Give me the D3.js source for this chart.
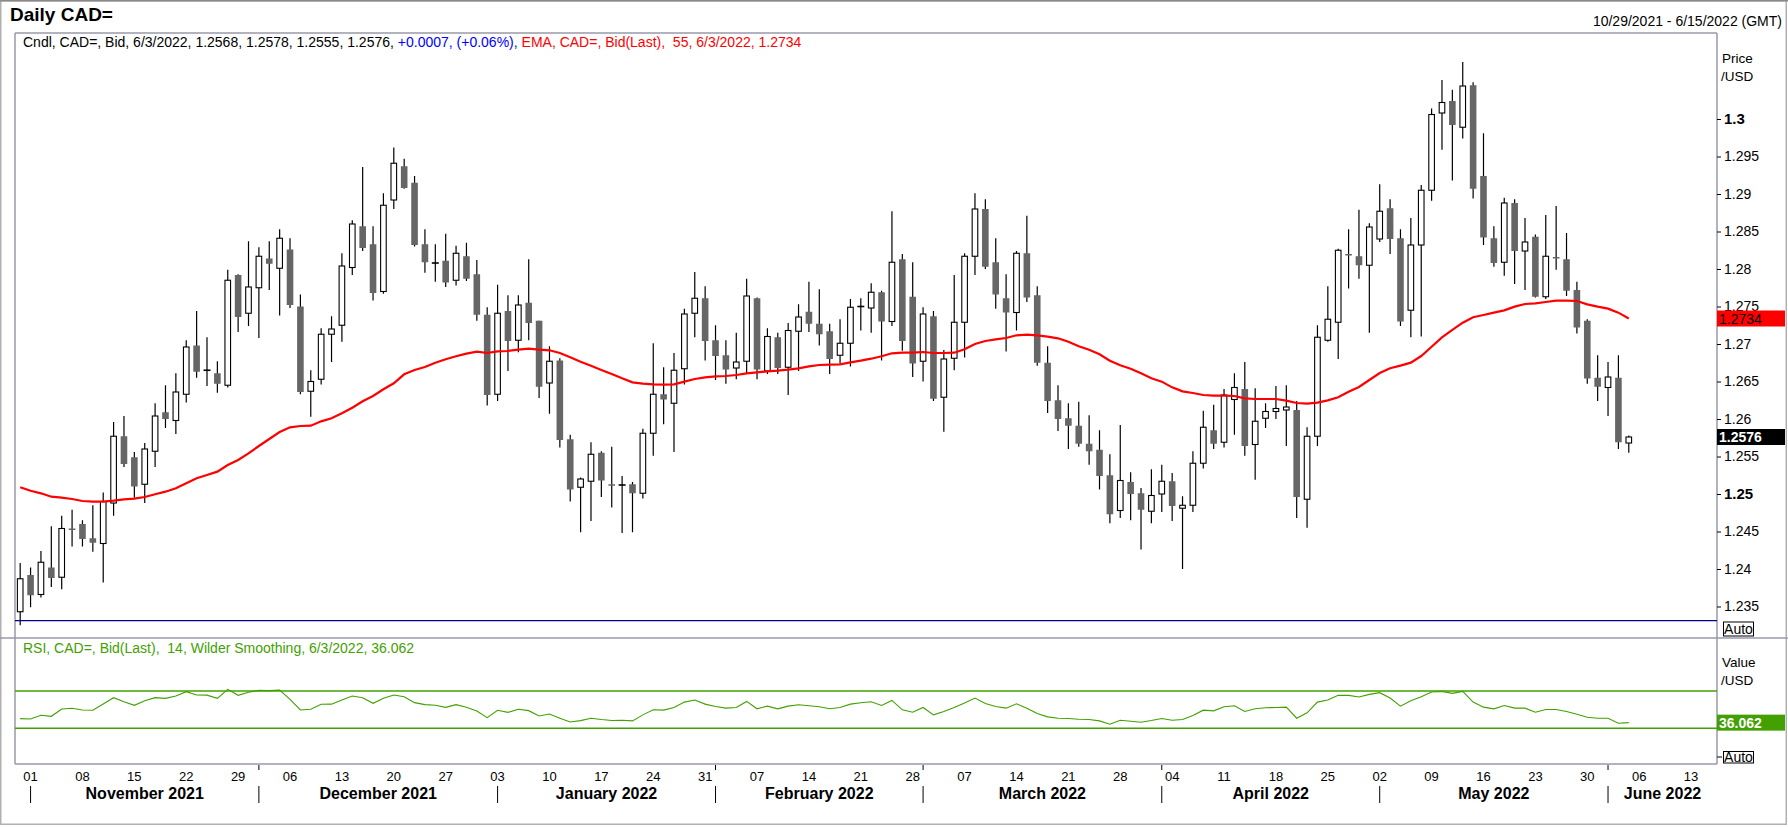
<!DOCTYPE html>
<html>
<head>
<meta charset="utf-8">
<script src="https://cdn.jsdelivr.net/npm/d3@7"></script>
<style>
body { margin: 0; background: #fff; }
svg { display: block; font-family: "Liberation Sans", Arial, sans-serif; }
text { white-space: pre; }
</style>
</head>
<body>
<div id="app"></div>
<script>
const width = 1788,
    height = 827;

// trading days (weekdays) from 10/29/2021 to 6/15/2022
const days = d3.utcDays(new Date(Date.UTC(2021, 9, 29)), new Date(Date.UTC(2022, 5, 16)))
    .filter(d => d.getUTCDay() !== 0 && d.getUTCDay() !== 6);

const open = [
    1.2343,1.2392,1.2366,1.2402,1.2389,1.2454,1.2460,1.2441,1.2434,1.2488,
    1.2577,1.2549,1.2513,1.2557,1.2609,1.2598,1.2633,1.2698,1.2665,1.2661,
    1.2645,1.2792,1.2741,1.2775,1.2814,1.2801,1.2826,1.2750,1.2637,1.2653,
    1.2713,1.2725,1.2802,1.2857,1.2833,1.2770,1.2892,1.2937,1.2915,1.2833,
    1.2808,1.2811,1.2785,1.2817,1.2793,1.2739,1.2633,1.2744,1.2705,1.2755,
    1.2731,1.2648,1.2678,1.2573,1.2509,1.2517,1.2555,1.2513,1.2512,1.2513,
    1.2501,1.2581,1.2633,1.2621,1.2667,1.2741,1.2761,1.2705,1.2685,1.2668,
    1.2677,1.2761,1.2664,1.2709,1.2669,1.2717,1.2743,1.2727,1.2717,1.2685,
    1.2701,1.2750,1.2748,1.2769,1.2730,1.2813,1.2763,1.2677,1.2737,1.2629,
    1.2681,1.2729,1.2817,1.2880,1.2809,1.2761,1.2742,1.2821,1.2765,1.2675,
    1.2625,1.2601,1.2591,1.2567,1.2559,1.2525,1.2478,1.2516,1.2501,1.2477,
    1.2500,1.2517,1.2481,1.2485,1.2541,1.2585,1.2569,1.2626,1.2640,1.2566,
    1.2601,1.2610,1.2612,1.2612,1.2493,1.2577,1.2705,1.2729,1.2820,1.2817,
    1.2805,1.2840,1.2881,1.2841,1.2745,1.2832,1.2905,1.3008,1.3024,1.2989,
    1.3045,1.2924,1.2841,1.2809,1.2888,1.2824,1.2843,1.2763,1.2816,1.2813,
    1.2772,1.2731,1.2655,1.2642,1.2655,1.2568
];
const high = [
    1.2408,1.2402,1.2424,1.2457,1.2471,1.2479,1.2465,1.2485,1.2502,1.2596,
    1.2604,1.2556,1.2568,1.2621,1.2645,1.2661,1.2705,1.2744,1.2709,1.2677,
    1.2799,1.2793,1.2837,1.2829,1.2837,1.2853,1.2841,1.2766,1.2665,1.2721,
    1.2737,1.2821,1.2865,1.2936,1.2857,1.2901,1.2962,1.2947,1.2924,1.2853,
    1.2833,1.2847,1.2831,1.2835,1.2812,1.2749,1.2779,1.2765,1.2765,1.2813,
    1.2731,1.2697,1.2681,1.2579,1.2522,1.2569,1.2557,1.2563,1.2524,1.2516,
    1.2587,1.2701,1.2669,1.2688,1.2747,1.2796,1.2777,1.2725,1.2705,1.2715,
    1.2787,1.2762,1.2721,1.2715,1.2728,1.2753,1.2783,1.2773,1.2727,1.2733,
    1.2760,1.2761,1.2781,1.2771,1.2877,1.2820,1.2809,1.2749,1.2744,1.2692,
    1.2792,1.2821,1.2901,1.2893,1.2841,1.2793,1.2824,1.2871,1.2777,1.2697,
    1.2645,1.2621,1.2623,1.2605,1.2585,1.2553,1.2592,1.2529,1.2508,1.2533,
    1.2539,1.2528,1.2497,1.2557,1.2611,1.2619,1.2640,1.2661,1.2676,1.2641,
    1.2621,1.2644,1.2645,1.2624,1.2589,1.2725,1.2777,1.2827,1.2853,1.2879,
    1.2861,1.2913,1.2893,1.2853,1.2868,1.2912,1.3014,1.3052,1.3039,1.3076,
    1.3049,1.2981,1.2857,1.2895,1.2893,1.2868,1.2846,1.2872,1.2884,1.2848,
    1.2783,1.2733,1.2685,1.2676,1.2685,1.2578
];
const low = [
    1.2325,1.2349,1.2362,1.2376,1.2373,1.2430,1.2430,1.2423,1.2382,1.2471,
    1.2536,1.2495,1.2488,1.2536,1.2588,1.2580,1.2622,1.2655,1.2644,1.2635,
    1.2642,1.2716,1.2724,1.2708,1.2772,1.2738,1.2748,1.2633,1.2603,1.2646,
    1.2676,1.2703,1.2792,1.2824,1.2758,1.2767,1.2880,1.2907,1.2830,1.2795,
    1.2783,1.2776,1.2778,1.2784,1.2731,1.2618,1.2624,1.2664,1.2689,1.2705,
    1.2628,1.2607,1.2562,1.2490,1.2449,1.2464,1.2496,1.2482,1.2448,1.2449,
    1.2494,1.2551,1.2593,1.2556,1.2646,1.2709,1.2678,1.2652,1.2647,1.2653,
    1.2661,1.2653,1.2660,1.2660,1.2632,1.2664,1.2716,1.2698,1.2660,1.2674,
    1.2670,1.2718,1.2715,1.2678,1.2724,1.2691,1.2656,1.2650,1.2624,1.2583,
    1.2665,1.2682,1.2792,1.2800,1.2747,1.2690,1.2718,1.2756,1.2671,1.2608,
    1.2584,1.2560,1.2563,1.2539,1.2506,1.2461,1.2468,1.2465,1.2426,1.2461,
    1.2476,1.2464,1.2400,1.2476,1.2534,1.2560,1.2562,1.2579,1.2551,1.2519,
    1.2588,1.2600,1.2564,1.2468,1.2455,1.2564,1.2703,1.2680,1.2774,1.2787,
    1.2715,1.2836,1.2820,1.2724,1.2709,1.2710,1.2891,1.2959,1.2918,1.2974,
    1.2894,1.2832,1.2803,1.2791,1.2780,1.2772,1.2762,1.2760,1.2799,1.2764,
    1.2714,1.2647,1.2624,1.2604,1.2560,1.2555
];
const close = [
    1.2387,1.2365,1.2409,1.2388,1.2454,1.2452,1.2440,1.2435,1.2490,1.2577,
    1.2540,1.2510,1.2560,1.2604,1.2600,1.2636,1.2696,1.2663,1.2665,1.2647,
    1.2785,1.2736,1.2776,1.2817,1.2807,1.2841,1.2752,1.2636,1.2650,1.2713,
    1.2720,1.2804,1.2860,1.2828,1.2768,1.2885,1.2941,1.2908,1.2832,1.2809,
    1.2808,1.2782,1.2821,1.2787,1.2739,1.2632,1.2741,1.2704,1.2752,1.2728,
    1.2643,1.2677,1.2572,1.2506,1.2520,1.2553,1.2518,1.2511,1.2512,1.2501,
    1.2581,1.2633,1.2626,1.2665,1.2740,1.2761,1.2704,1.2684,1.2666,1.2676,
    1.2764,1.2666,1.2710,1.2668,1.2718,1.2736,1.2727,1.2713,1.2680,1.2701,
    1.2749,1.2750,1.2769,1.2730,1.2809,1.2704,1.2674,1.2740,1.2627,1.2680,
    1.2729,1.2817,1.2880,1.2803,1.2766,1.2742,1.2821,1.2762,1.2675,1.2624,
    1.2600,1.2591,1.2567,1.2557,1.2524,1.2473,1.2518,1.2500,1.2479,1.2498,
    1.2517,1.2484,1.2485,1.2541,1.2589,1.2567,1.2632,1.2642,1.2564,1.2597,
    1.2610,1.2614,1.2616,1.2496,1.2577,1.2709,1.2733,1.2825,1.2818,1.2805,
    1.2856,1.2877,1.2840,1.2730,1.2832,1.2905,1.3006,1.3022,1.2992,1.3044,
    1.2907,1.2842,1.2808,1.2888,1.2824,1.2836,1.2763,1.2817,1.2814,1.2771,
    1.2722,1.2654,1.2643,1.2656,1.2569,1.2576
];
// EMA(55)
const ema55 = [
    1.25089,1.25044,1.25009,1.24964,1.24951,1.24933,1.24907,1.24898,1.24898,1.24911,
    1.24929,1.24938,1.24960,1.24996,1.25031,1.25076,1.25142,1.25209,1.25253,1.25298,
    1.25387,1.25453,1.25542,1.25640,1.25733,1.25827,1.25889,1.25907,1.25911,1.25969,
    1.26009,1.26076,1.26151,1.26236,1.26307,1.26396,1.26476,1.26596,1.26653,1.26693,
    1.26751,1.26796,1.26836,1.26871,1.26898,1.26880,1.26902,1.26907,1.26924,1.26938,
    1.26924,1.26916,1.26880,1.26822,1.26764,1.26711,1.26653,1.26600,1.26542,1.26489,
    1.26471,1.26462,1.26458,1.26462,1.26498,1.26533,1.26556,1.26569,1.26573,1.26587,
    1.26609,1.26622,1.26636,1.26644,1.26658,1.26676,1.26702,1.26720,1.26724,1.26729,
    1.26756,1.26778,1.26804,1.26836,1.26876,1.26884,1.26884,1.26893,1.26880,1.26880,
    1.26884,1.26929,1.27000,1.27040,1.27062,1.27080,1.27116,1.27124,1.27116,1.27098,
    1.27076,1.27031,1.26969,1.26924,1.26862,1.26778,1.26716,1.26671,1.26609,1.26542,
    1.26498,1.26422,1.26369,1.26347,1.26320,1.26311,1.26311,1.26307,1.26276,1.26267,
    1.26267,1.26267,1.26244,1.26213,1.26204,1.26218,1.26249,1.26289,1.26364,1.26427,
    1.26520,1.26613,1.26676,1.26711,1.26751,1.26840,1.26964,1.27089,1.27187,1.27284,
    1.27356,1.27387,1.27418,1.27449,1.27498,1.27533,1.27542,1.27560,1.27578,1.27578,
    1.27573,1.27529,1.27498,1.27471,1.27418,1.27340
];
// RSI(14)
const rsi14 = [
    40.36,40.00,43.93,42.86,50.71,51.43,49.64,49.29,56.07,62.86,
    58.57,54.64,59.64,62.86,62.14,64.64,69.29,65.71,65.60,62.14,
    71.79,65.36,68.57,70.71,70.36,70.90,61.07,49.64,50.36,55.71,
    55.90,60.36,64.64,62.86,56.79,62.14,65.71,63.93,57.50,55.36,
    54.64,52.50,55.36,52.50,48.57,41.43,49.29,47.14,50.36,48.93,
    43.21,45.36,40.71,36.79,38.21,
    40.81,39.37,38.29,38.65,37.93,44.41,49.82,49.46,52.34,58.11,
    60.27,55.95,53.42,51.62,52.34,58.83,50.90,53.78,50.90,53.78,
    55.23,54.14,53.06,50.90,52.34,55.95,57.39,58.47,54.50,59.91,
    49.82,47.30,52.34,44.41,48.02,52.34,57.03,62.43,56.67,53.42,
    51.62,56.31,51.62,45.86,42.25,40.81,40.45,39.73,39.37,37.93,
    34.32,38.65,37.57,36.49,38.29,40.45,38.65,39.37,43.69,49.46,
    48.74,53.06,54.14,48.02,50.90,51.98,52.34,52.70,40.81,46.58,
    58.11,60.27,65.32,65.32,63.51,66.40,68.20,62.43,53.78,59.55,
    63.87,68.92,69.64,67.48,69.64,58.11,52.70,50.90,54.50,51.62,
    51.62,47.30,50.18,50.18,48.02,45.14,41.89,40.81,40.81,35.41,36.062
];

const priceTicks = [1.235, 1.24, 1.245, 1.25, 1.255, 1.26, 1.265, 1.27, 1.275, 1.28, 1.285, 1.29, 1.295, 1.3];
const majorTicks = [1.25, 1.3];
const rsiBands = [30, 70];
const monthLabels = ["November 2021", "December 2021", "January 2022", "February 2022",
    "March 2022", "April 2022", "May 2022", "June 2022"];

const bars = open.map((o, i) => ({date: days[i], o, h: high[i], l: low[i], c: close[i], ema: ema55[i], rsi: rsi14[i]}));
const last = bars[bars.length - 1], prev = bars[bars.length - 2];

// scales
const left = 15, right = 1717;
const x = d3.scaleBand().domain(days).range([left, right]);
const cx = d => x(d) + x.bandwidth() / 2;
const y = d3.scaleLinear().domain([1.25, 1.3]).range([494, 119]);
const yr = d3.scaleLinear().domain([30, 70]).range([728.3, 691]);

const grid = "#9a9aaa", green = "#42a000";

const svg = d3.select("#app")
    .append("svg")
    .attr("width", width)
    .attr("height", height);

// outer border
svg.append("rect").attr("x", 0.75).attr("y", 0.75).attr("width", width - 2.5).attr("height", 823.5)
    .attr("fill", "none").attr("stroke", "#b0b0b0").attr("stroke-width", 1.5);
svg.append("line").attr("x1", 0).attr("x2", width).attr("y1", 0.75).attr("y2", 0.75)
    .attr("stroke", "#8a8a8a").attr("stroke-width", 1.5);

// titles
svg.append("text").attr("x", 10).attr("y", 21).attr("font-size", 19).attr("font-weight", "bold").text("Daily CAD=");
svg.append("text").attr("x", 1782).attr("y", 26).attr("font-size", 14).attr("text-anchor", "end")
    .text("10/29/2021 - 6/15/2022 (GMT)");

// panel frames
const frame = svg.append("g").attr("stroke", grid).attr("stroke-width", 1.5);
frame.append("line").attr("x1", left).attr("x2", right).attr("y1", 33).attr("y2", 33);
frame.append("line").attr("x1", left).attr("x2", left).attr("y1", 33).attr("y2", 764);
frame.append("line").attr("x1", right).attr("x2", right).attr("y1", 33).attr("y2", 764);
frame.append("line").attr("x1", 0).attr("x2", width).attr("y1", 638).attr("y2", 638);
frame.append("line").attr("x1", left).attr("x2", right).attr("y1", 764).attr("y2", 764);

// legend line
const f4 = d3.format(".4f");
const chg = last.c - prev.c;
const legend = svg.append("text").attr("x", 23).attr("y", 46.5).attr("font-size", 14);
legend.append("tspan").attr("fill", "#000")
    .text(`Cndl, CAD=, Bid, 6/3/2022, ${f4(last.o)}, ${f4(last.h)}, ${f4(last.l)}, ${f4(last.c)}, `);
legend.append("tspan").attr("fill", "#0000ff")
    .text(`${d3.format("+.4f")(chg)}, (${d3.format("+.2f")(chg / prev.c * 100)}%), `);
legend.append("tspan").attr("fill", "#ff0000")
    .text(`EMA, CAD=, Bid(Last),  55, 6/3/2022, ${f4(last.ema)}`);

// candles
const candle = svg.append("g").selectAll("g")
    .data(bars).enter()
    .append("g");

candle.append("line")
    .attr("x1", d => cx(d.date)).attr("x2", d => cx(d.date))
    .attr("y1", d => y(d.h)).attr("y2", d => y(d.l))
    .attr("stroke", "#000").attr("stroke-width", 1.2);

candle.filter(d => d.c > d.o).append("rect")
    .attr("x", d => cx(d.date) - 2.8).attr("width", 5.6)
    .attr("y", d => y(d.c)).attr("height", d => Math.max(1, y(d.o) - y(d.c)))
    .attr("fill", "#fff").attr("stroke", "#000").attr("stroke-width", 1.1);

candle.filter(d => d.c < d.o).append("rect")
    .attr("x", d => cx(d.date) - 3.3).attr("width", 6.6)
    .attr("y", d => y(d.o)).attr("height", d => Math.max(1.5, y(d.c) - y(d.o)))
    .attr("fill", "#666666");

candle.filter(d => d.c === d.o).append("line")
    .attr("x1", d => cx(d.date) - 3.5).attr("x2", d => cx(d.date) + 3.5)
    .attr("y1", d => y(d.o)).attr("y2", d => y(d.o))
    .attr("stroke", "#000").attr("stroke-width", 1.6);

// EMA
svg.append("path").datum(bars)
    .attr("fill", "none").attr("stroke", "#ff0000").attr("stroke-width", 2.2)
    .attr("d", d3.line().x(d => cx(d.date)).y(d => y(d.ema)));

// bottom line of price pane
svg.append("line").attr("x1", left).attr("x2", right).attr("y1", 620.7).attr("y2", 620.7)
    .attr("stroke", "#000090").attr("stroke-width", 1.3);

// price axis
const yAxis = svg.append("g")
    .attr("transform", `translate(${right},0)`)
    .attr("font-size", 14)
    .call(d3.axisRight(y).tickValues(priceTicks).tickSize(4).tickPadding(3).tickFormat(d3.format("")));
yAxis.select(".domain").remove();
yAxis.selectAll("text").attr("fill", "#000").attr("font-family", "Liberation Sans, Arial, sans-serif")
    .attr("font-weight", d => majorTicks.includes(d) ? "bold" : "normal")
    .attr("font-size", d => majorTicks.includes(d) ? 15 : 14);
yAxis.selectAll("line").attr("stroke", "#000");

svg.append("text").attr("x", 1722).attr("y", 63).attr("font-size", 13.5).text("Price");
svg.append("text").attr("x", 1721).attr("y", 81).attr("font-size", 13.5).text("/USD");

// value boxes
function valueBox(v, yy, fill, color, weight) {
    svg.append("rect").attr("x", right).attr("y", yy - 8).attr("width", 68).attr("height", 16).attr("fill", fill);
    svg.append("text").attr("x", right + 2).attr("y", yy).attr("dy", "0.36em")
        .attr("font-size", 14).attr("font-weight", weight).attr("fill", color).text(v);
}
valueBox(f4(last.ema), y(last.ema), "#ff0000", "#000", "normal");
valueBox(f4(last.c), y(last.c), "#000", "#fff", "bold");

function autoBox(yTop, h) {
    svg.append("rect").attr("x", 1723.5).attr("y", yTop).attr("width", 30).attr("height", h)
        .attr("fill", "#fff").attr("stroke", "#000").attr("stroke-width", 1);
    svg.append("text").attr("x", 1738.5).attr("y", yTop + h / 2).attr("dy", "0.36em")
        .attr("text-anchor", "middle").attr("font-size", 14).text("Auto");
}
autoBox(622, 14);

// RSI pane
svg.append("text").attr("x", 23).attr("y", 652.5).attr("font-size", 14).attr("fill", green)
    .text(`RSI, CAD=, Bid(Last),  14, Wilder Smoothing, 6/3/2022, ${d3.format(".3f")(last.rsi)}`);

svg.append("g").selectAll("line")
    .data(rsiBands).enter()
    .append("line")
    .attr("x1", left).attr("x2", right)
    .attr("y1", d => yr(d)).attr("y2", d => yr(d))
    .attr("stroke", green).attr("stroke-width", 1.5);

svg.append("path").datum(bars)
    .attr("fill", "none").attr("stroke", green).attr("stroke-width", 1.1)
    .attr("d", d3.line().x(d => cx(d.date)).y(d => yr(d.rsi)));

svg.append("text").attr("x", 1722).attr("y", 667).attr("font-size", 13.5).text("Value");
svg.append("text").attr("x", 1721).attr("y", 685).attr("font-size", 13.5).text("/USD");

svg.append("rect").attr("x", right).attr("y", yr(last.rsi) - 8).attr("width", 68).attr("height", 16).attr("fill", green);
svg.append("text").attr("x", right + 2).attr("y", yr(last.rsi)).attr("dy", "0.36em")
    .attr("font-size", 14).attr("font-weight", "bold").attr("fill", "#fff").text(d3.format(".3f")(last.rsi));

svg.append("line").attr("x1", right).attr("x2", 1722).attr("y1", 757).attr("y2", 757).attr("stroke", "#000");
autoBox(751.5, 11.5);

// time axis
const mondays = days.filter(d => d.getUTCDay() === 1);
const monthStarts = days.filter((d, i) => i > 0 && d.getUTCMonth() !== days[i - 1].getUTCMonth());

const xAxis = svg.append("g")
    .attr("transform", "translate(0,764)")
    .call(d3.axisBottom(x).tickValues(mondays).tickSize(0).tickPadding(8).tickFormat(d3.utcFormat("%d")));
xAxis.select(".domain").remove();
xAxis.selectAll("text").attr("font-size", 13).attr("fill", "#000")
    .attr("font-family", "Liberation Sans, Arial, sans-serif");

svg.append("g").selectAll("line")
    .data(monthStarts.filter(d => d.getUTCDay() !== 1)).enter()
    .append("line")
    .attr("x1", d => cx(d)).attr("x2", d => cx(d))
    .attr("y1", 765).attr("y2", 770)
    .attr("stroke", "#000");

svg.append("g").selectAll("line")
    .data(monthStarts).enter()
    .append("line")
    .attr("x1", d => cx(d)).attr("x2", d => cx(d))
    .attr("y1", 786).attr("y2", 803)
    .attr("stroke", "#000");

const edges = monthStarts.map(cx).concat([right]);
svg.append("g").selectAll("text")
    .data(monthLabels).enter()
    .append("text")
    .attr("x", (d, i) => (edges[i] + edges[i + 1]) / 2)
    .attr("y", 799)
    .attr("text-anchor", "middle")
    .attr("font-size", 16).attr("font-weight", "bold")
    .text(d => d);
</script>
</body>
</html>
